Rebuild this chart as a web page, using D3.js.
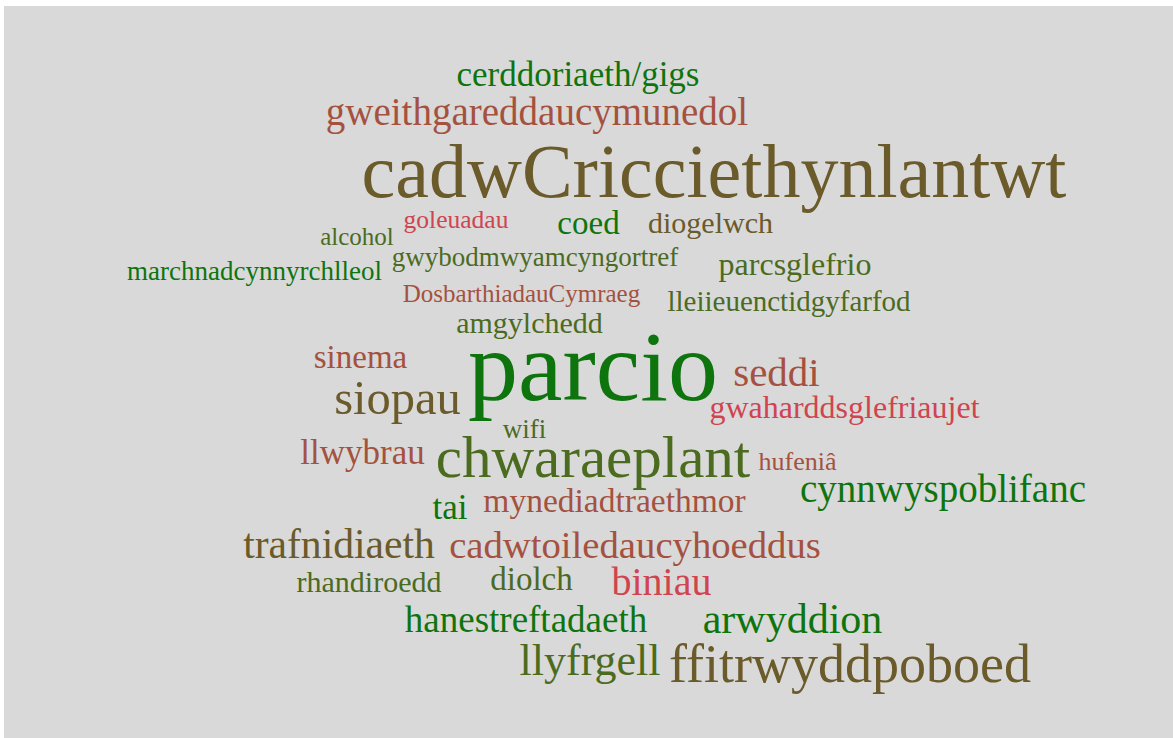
<!DOCTYPE html>
<html>
<head>
<meta charset="utf-8">
<script src="https://cdn.jsdelivr.net/npm/d3@7"></script>
<style>
  html, body { margin: 0; padding: 0; background: #ffffff; }
  svg { display: block; }
</style>
</head>
<body>
<svg id="chart" width="1173" height="738"></svg>
<script>
// Words of the cloud
const words = [
  "cerddoriaeth/gigs", "gweithgareddaucymunedol", "cadwCricciethynlantwt",
  "alcohol", "goleuadau", "coed", "diogelwch", "gwybodmwyamcyngortref",
  "marchnadcynnyrchlleol", "parcsglefrio", "DosbarthiadauCymraeg",
  "lleiieuenctidgyfarfod", "amgylchedd", "sinema", "siopau", "parcio",
  "seddi", "gwaharddsglefriaujet", "wifi", "llwybrau", "chwaraeplant",
  "hufeniâ", "cynnwyspoblifanc", "tai", "mynediadtraethmor", "trafnidiaeth",
  "cadwtoiledaucyhoeddus", "rhandiroedd", "diolch", "biniau",
  "hanestreftadaeth", "arwyddion", "llyfrgell", "ffitrwyddpoboed"
];
// Weight of each word (drives font size)
const weights = [
  35, 39, 76,
  25, 25.5, 33, 30, 27,
  27, 32, 25,
  29, 30, 33, 48.5, 100,
  41, 32, 27, 35, 59,
  26, 39, 35, 33.5, 41.6,
  38.7, 30, 33, 40,
  37, 42, 44, 54
];
// Colour group of each word
const groups = [
  "green", "brown", "olive",
  "olivegreen", "red", "green", "olive", "olivegreen",
  "green", "olivegreen", "brown",
  "olivegreen", "olivegreen", "brown", "olive", "green",
  "brown", "red", "olivegreen", "brown", "olivegreen",
  "brown", "green", "green", "brown", "olive",
  "brown", "olivegreen", "olivegreen", "red",
  "green", "green", "olivegreen", "olive"
];
// Cloud layout result (word centre x, baseline y, relative to cloud centre)
const layoutX = [
  -8, -49, 128,
  -229, -130, 2.5, 124.5, -51,
  -331.5, 209, -64.5,
  203, -56.5, -225.5, -188.5, 7,
  190.5, 258.5, -61.5, -223.5, 7,
  211.5, 357, -136, 28.5, -247,
  49, -217, -54.5, 75.5,
  -60, 206.5, 4, 264
];
const layoutY = [
  -283, -244, -172,
  -124, -141, -135, -136, -103,
  -89, -94, -67,
  -58, -36, -1, 45, 31,
  17, 49, 69, 95, 108,
  101, 133, 150, 143, 189,
  189, 223, 221, 226,
  263, 264, 306, 313
];

const groupNames = ["green", "olivegreen", "olive", "brown", "red"];
const groupColors = ["#0e740e", "#4b6b1f", "#6b5a2a", "#a5513f", "#d0444f"];

const W = 1173, H = 738;
const svg = d3.select("#chart");

// panel background
svg.append("rect")
  .attr("x", 4).attr("y", 6)
  .attr("width", W - 4).attr("height", H - 6)
  .attr("fill", "#d9d9d9");

const cx = 586, cy = 369;
const x = d3.scaleLinear().domain([-cx, W - cx]).range([0, W]);
const y = d3.scaleLinear().domain([-cy, H - cy]).range([0, H]);
const size = d3.scaleLinear().domain([25, 100]).range([25, 100]);
const color = d3.scaleOrdinal().domain(groupNames).range(groupColors);

const data = words.map((w, i) => ({
  text: w, weight: weights[i], group: groups[i], lx: layoutX[i], ly: layoutY[i]
}));

svg.append("g")
  .selectAll("text")
  .data(data)
  .join("text")
  .attr("text-anchor", "middle")
  .attr("x", d => x(d.lx))
  .attr("y", d => y(d.ly))
  .attr("font-family", "'Liberation Serif', 'Times New Roman', Times, serif")
  .attr("font-size", d => size(d.weight) + "px")
  .attr("fill", d => color(d.group))
  .text(d => d.text);
</script>
</body>
</html>
